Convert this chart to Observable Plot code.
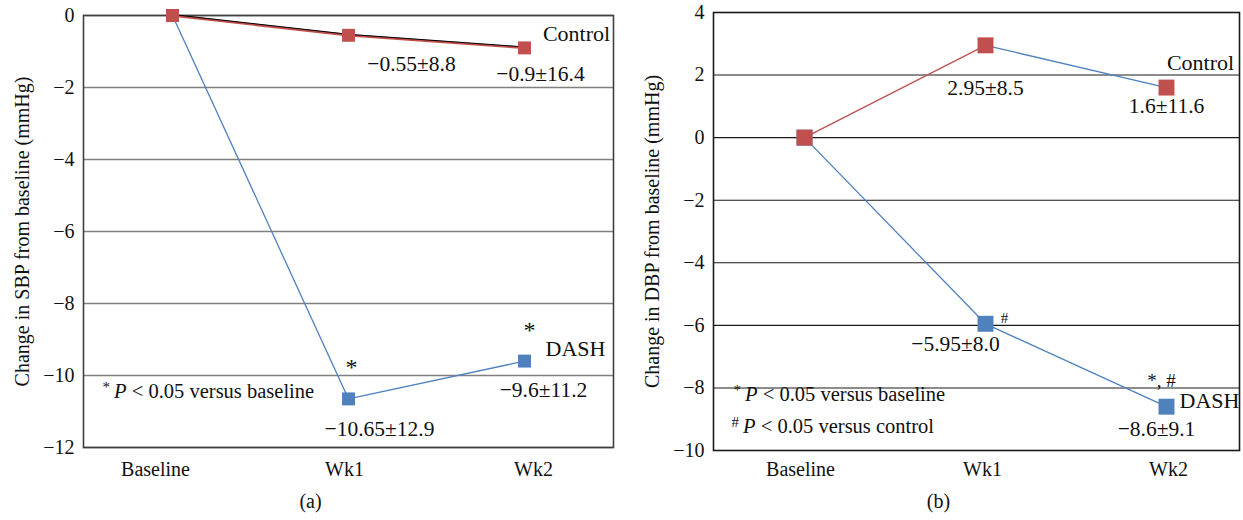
<!DOCTYPE html>
<html>
<head>
<meta charset="utf-8">
<script src="https://cdn.jsdelivr.net/npm/d3@7"></script>
<script src="https://cdn.jsdelivr.net/npm/@observablehq/plot@0.6"></script>
<style>
  html, body { margin: 0; padding: 0; background: #fff; }
  #wrap { display: flex; flex-direction: row; width: 1243px; height: 520px; }
  svg { display: block; }
</style>
</head>
<body>
<div id="wrap"></div>
<script>
// ---------------- DATA ----------------
const categories = ["Baseline", "Wk1", "Wk2"];
const seriesNames = ["Control", "DASH"];

// (a) SBP
const sbpControl   = [0, -0.55, -0.9];
const sbpControlSD = [null, 8.8, 16.4];
const sbpDash      = [0, -10.65, -9.6];
const sbpDashSD    = [null, 12.9, 11.2];
const sbpDashSig   = ["", "*", "*"];
const sbpTicks     = [-12, -10, -8, -6, -4, -2, 0];
const sbpTitle     = "Change in SBP from baseline (mmHg)";
const sbpFootnotes = ["*P < 0.05 versus baseline"];
const sbpCaption   = "(a)";

// (b) DBP
const dbpControl   = [0, 2.95, 1.6];
const dbpControlSD = [null, 8.5, 11.6];
const dbpDash      = [0, -5.95, -8.6];
const dbpDashSD    = [null, 8.0, 9.1];
const dbpDashSig   = ["", "#", "*, #"];
const dbpTicks     = [-10, -8, -6, -4, -2, 0, 2, 4];
const dbpTitle     = "Change in DBP from baseline (mmHg)";
const dbpFootnotes = ["*P < 0.05 versus baseline", "#P < 0.05 versus control"];
const dbpCaption   = "(b)";

// ---------------- STYLE / LAYOUT ----------------
const RED = "#C0504D", BLUE = "#4F81BD";
const FONT = "'Liberation Serif', 'Times New Roman', serif";
const minus = v => (v < 0 ? "\u2212" : "") + Math.abs(v);
const valueLabel = (m, sd) => `${minus(m)}\u00b1${sd.toFixed(1)}`;

function rows(vals, sds, sig) {
  return categories.map((c, i) => ({cat: c, v: vals[i], sd: sds ? sds[i] : null, sig: sig ? sig[i] : ""}));
}

function pairs(rs) {
  const out = [];
  for (let i = 0; i < rs.length - 1; i++) out.push({a: rs[i], b: rs[i + 1], i});
  return out;
}

function buildPanel(cfg) {
  const ctrl = rows(cfg.control, cfg.controlSD, null);
  const dash = rows(cfg.dash, cfg.dashSD, cfg.dashSig);
  const marks = [];

  // grid
  marks.push(Plot.ruleY(cfg.ticks, {stroke: cfg.gridColor, strokeWidth: cfg.gridWidth}));
  marks.push(Plot.frame({stroke: cfg.frameColor, strokeWidth: 1.6}));

  // axes
  marks.push(Plot.axisY({ticks: cfg.ticks, tickSize: 0, tickPadding: 9, label: null,
    tickFormat: minus, fontSize: 20}));
  marks.push(Plot.axisX({tickSize: 0, tickPadding: cfg.xTickPadding, label: null, fontSize: 20}));

  // y title
  marks.push(Plot.text([cfg.title], {frameAnchor: "left", text: d => d, rotate: -90,
    dx: -61, fontSize: 20, textAnchor: "middle"}));

  // DASH line
  marks.push(Plot.link(pairs(dash), {x1: d => d.a.cat, y1: d => d.a.v, x2: d => d.b.cat, y2: d => d.b.v,
    stroke: BLUE, strokeWidth: 1.3}));
  // Control line
  marks.push(Plot.link(pairs(ctrl), {x1: d => d.a.cat, y1: d => d.a.v, x2: d => d.b.cat, y2: d => d.b.v,
    stroke: d => cfg.controlSegColors[d.i], strokeWidth: cfg.controlOverlay ? 2.4 : 1.3}));
  if (cfg.controlOverlay) {
    marks.push(Plot.link(pairs(ctrl), {x1: d => d.a.cat, y1: d => d.a.v, x2: d => d.b.cat, y2: d => d.b.v,
      stroke: "#000", strokeWidth: 1, dy: -1}));
  }

  // markers
  marks.push(Plot.dot(dash, {x: "cat", y: "v", symbol: "square", r: cfg.r, fill: BLUE, stroke: "none"}));
  marks.push(Plot.dot(ctrl, {x: "cat", y: "v", symbol: "square", r: cfg.r, fill: RED, stroke: "none"}));

  // value labels
  const addLabels = (rs, offs) => {
    rs.forEach((d, i) => {
      if (d.sd == null) return;
      marks.push(Plot.text([d], {x: "cat", y: "v", text: e => valueLabel(e.v, e.sd),
        dx: offs[i - 1][0], dy: offs[i - 1][1], fontSize: 21.5}));
    });
  };
  addLabels(ctrl, cfg.ctrlLabelOff);
  addLabels(dash, cfg.dashLabelOff);

  // significance markers
  dash.forEach((d, i) => {
    if (!d.sig) return;
    const o = cfg.sigOff[i - 1];
    marks.push(Plot.text([d], {x: "cat", y: "v", text: "sig", dx: o[0], dy: o[1], fontSize: o[2]}));
  });

  // series names
  marks.push(Plot.text([ctrl[2]], {x: "cat", y: "v", text: () => seriesNames[0],
    dx: cfg.ctrlNameOff[0], dy: cfg.ctrlNameOff[1], fontSize: 22}));
  marks.push(Plot.text([dash[2]], {x: "cat", y: "v", text: () => seriesNames[1],
    dx: cfg.dashNameOff[0], dy: cfg.dashNameOff[1], fontSize: 22}));

  // footnotes
  cfg.footnotes.forEach((f, k) => {
    marks.push(Plot.text([f], {frameAnchor: "bottom-left", text: d => d, textAnchor: "start",
      dx: cfg.footOff[k][0], dy: cfg.footOff[k][1], fontSize: 20.5, fill: "#111"}));
  });

  // caption
  marks.push(Plot.text([cfg.caption], {frameAnchor: "bottom", text: d => d,
    dx: cfg.capOff[0], dy: cfg.capOff[1], fontSize: 20}));

  const svg = Plot.plot({
    width: cfg.width, height: 520,
    marginLeft: cfg.ml, marginRight: cfg.mr, marginTop: cfg.mt, marginBottom: cfg.mb,
    x: {type: "point", domain: categories, padding: cfg.padding, align: cfg.align},
    y: {domain: [cfg.ticks[0], cfg.ticks[cfg.ticks.length - 1]]},
    style: {fontFamily: FONT, fontSize: "20px", color: "#111", background: "#fff", overflow: "visible"},
    marks
  });

  // rich text for footnotes: superscript symbol + italic P
  d3.select(svg).selectAll("text").each(function () {
    const t = this.textContent;
    if (cfg.footnotes.includes(t)) {
      const sym = t[0];
      const rest = t.slice(2);
      const el = d3.select(this);
      el.text(null);
      el.append("tspan").attr("font-size", 15).attr("dy", -6).attr("fill", "#111").text(sym);
      el.append("tspan").attr("dy", 6).attr("font-style", "italic").attr("fill", "#111").text("\u2009P");
      el.append("tspan").attr("fill", "#111").text(rest);
    }
  });

  // nudge x tick labels as in the reference
  const xLabels = d3.select(svg).selectAll('g[aria-label="x-axis tick label"] text');
  xLabels.each(function (d, i) {
    const s = cfg.xTickShift[i] || 0;
    const tr = this.getAttribute("transform") || "";
    this.setAttribute("transform", `translate(${s},0) ${tr}`);
  });
  return svg;
}

const left = buildPanel({
  width: 620, ml: 83, mr: 7, mt: 15, mb: 73,
  padding: 0.5, align: 0.5, xTickPadding: 14, xTickShift: [-17, -4, 9],
  control: sbpControl, controlSD: sbpControlSD, dash: sbpDash, dashSD: sbpDashSD, dashSig: sbpDashSig,
  ticks: sbpTicks, title: sbpTitle, footnotes: sbpFootnotes, caption: sbpCaption,
  gridColor: "#808080", gridWidth: 1.6, frameColor: "#404040", r: 7.3,
  controlSegColors: [RED, RED], controlOverlay: true,
  ctrlLabelOff: [[63, 29], [16, 26]],
  dashLabelOff: [[31, 30], [19, 29]],
  sigOff: [[3, -32, 24], [5, -31, 24]],
  ctrlNameOff: [52, -14], dashNameOff: [51, -12],
  footOff: [[19, -50]],
  capOff: [-38, 60]
});

const right = buildPanel({
  width: 623, ml: 93, mr: 4, mt: 12, mb: 70,
  padding: 0.449, align: 0.555, xTickPadding: 11, xTickShift: [-4, -3, 2],
  control: dbpControl, controlSD: dbpControlSD, dash: dbpDash, dashSD: dbpDashSD, dashSig: dbpDashSig,
  ticks: dbpTicks, title: dbpTitle, footnotes: dbpFootnotes, caption: dbpCaption,
  gridColor: "#1a1a1a", gridWidth: 1.1, frameColor: "#1a1a1a", r: 9,
  controlSegColors: [RED, BLUE], controlOverlay: false,
  ctrlLabelOff: [[0, 43], [0, 19]],
  dashLabelOff: [[-30, 20], [-10, 22]],
  sigOff: [[19, -6, 15], [-5, -26, 19]],
  ctrlNameOff: [34, -25], dashNameOff: [43, -6],
  footOff: [[20, -50], [18, -18]],
  capOff: [-38, 57]
});

document.getElementById("wrap").append(left, right);
</script>
</body>
</html>
